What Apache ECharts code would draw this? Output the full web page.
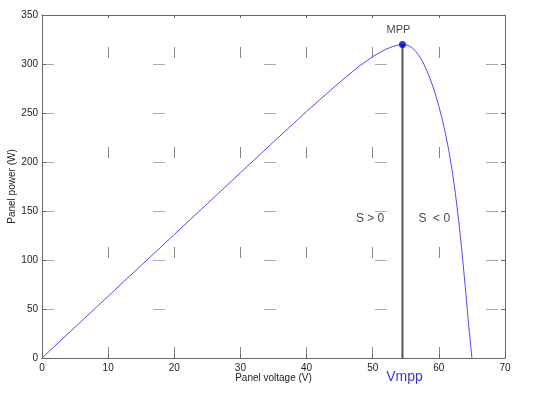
<!DOCTYPE html>
<html>
<head>
<meta charset="utf-8">
<script src="https://cdn.jsdelivr.net/npm/echarts@6/dist/echarts.min.js"></script>
<style>
html,body{margin:0;padding:0;background:#fff;}
#chart{width:550px;height:399px;}
</style>
</head>
<body>
<div id="chart"></div>
<script>
// Panel voltage (V) and panel power (W)
const voltage = [0, 5, 10, 15, 20, 25, 30, 35, 40, 42, 44, 46, 48, 50, 51, 52, 53, 54, 54.5, 55, 55.5, 56, 56.5, 57, 57.5, 58, 58.5, 59, 59.5, 60, 60.5, 61, 61.5, 62, 62.5, 63, 63.5, 64.0, 64.5, 65.0];
const power   = [0, 31.5, 63, 94.5, 126, 157.5, 189, 220.5, 251.5, 263.5, 275.5, 287, 298, 307.5, 311.5, 315, 317.8, 319.5, 320, 319.6, 318.4, 316.2, 313, 308.5, 303, 296, 288, 279, 268.5, 257, 244, 229, 212, 192, 168, 140, 108, 72, 34, 0];
const mppVoltage = 54.5;
const mppPower = 320;
const xTicks = [0, 10, 20, 30, 40, 50, 60, 70];
const yTicks = [0, 50, 100, 150, 200, 250, 300, 350];
const annotationTexts = ['S > 0', 'S  < 0', 'Vmpp'];

const FONT = 'Liberation Sans, Arial, sans-serif';
const chart = echarts.init(document.getElementById('chart'), null, {renderer: 'canvas'});

const curve = voltage.map((v, i) => [v, power[i]]);

const option = {
  animation: false,
  backgroundColor: '#fff',
  grid: {left: 42, right: 45, top: 15, bottom: 41, containLabel: false, outerBoundsMode: 'none'},
  xAxis: [
    {
      type: 'value', min: xTicks[0], max: xTicks[xTicks.length - 1], interval: 10,
      position: 'bottom',
      axisLine: {show: true, onZero: false, lineStyle: {color: '#666', width: 1}},
      axisTick: {show: true, inside: true, length: 4, lineStyle: {color: '#666'}},
      axisLabel: {color: '#222', fontSize: 10, fontFamily: FONT, margin: 5},
      splitLine: {show: true, lineStyle: {color: '#888', width: 1, type: [11, 89], dashOffset: 68}},
      name: 'Panel voltage (V)', nameLocation: 'middle', nameGap: 15.5, nameMoveOverlap: false,
      nameTextStyle: {color: '#222', fontSize: 10, fontFamily: FONT, verticalAlign: 'top'}
    },
    {
      type: 'value', min: xTicks[0], max: xTicks[xTicks.length - 1], interval: 10,
      position: 'top',
      axisLine: {show: true, onZero: false, lineStyle: {color: '#666', width: 1}},
      axisTick: {show: true, inside: true, length: 3, lineStyle: {color: '#666'}},
      axisLabel: {show: false},
      splitLine: {show: false}
    }
  ],
  yAxis: [
    {
      type: 'value', min: yTicks[0], max: yTicks[yTicks.length - 1], interval: 50,
      position: 'left',
      axisLine: {show: true, onZero: false, lineStyle: {color: '#666', width: 1}},
      axisTick: {show: true, inside: true, length: 4, lineStyle: {color: '#666'}},
      axisLabel: {color: '#222', fontSize: 10, fontFamily: FONT, margin: 4},
      splitLine: {show: true, lineStyle: {color: '#aaa', width: 1, type: [12, 99], dashOffset: 0}},
      name: 'Panel power (W)', nameLocation: 'middle', nameGap: 25, nameRotate: 90, nameMoveOverlap: false,
      nameTextStyle: {color: '#222', fontSize: 10, fontFamily: FONT}
    },
    {
      type: 'value', min: yTicks[0], max: yTicks[yTicks.length - 1], interval: 50,
      position: 'right',
      axisLine: {show: true, onZero: false, lineStyle: {color: '#666', width: 1}},
      axisTick: {show: true, inside: true, length: 4, lineStyle: {color: '#666'}},
      axisLabel: {show: false},
      splitLine: {show: false}
    }
  ],
  series: [
    {
      name: 'P-V', type: 'line', xAxisIndex: 0, yAxisIndex: 0,
      data: curve, showSymbol: false, smooth: false,
      lineStyle: {color: '#4d4dff', width: 1}, z: 3
    },
    {
      name: 'Vmpp line', type: 'line', xAxisIndex: 0, yAxisIndex: 0,
      data: [[mppVoltage, 0], [mppVoltage, mppPower]], showSymbol: false,
      lineStyle: {color: '#555', width: 2}, z: 2
    },
    {
      name: 'MPP', type: 'scatter', xAxisIndex: 0, yAxisIndex: 0,
      data: [[mppVoltage, mppPower]], symbolSize: 7,
      itemStyle: {color: '#0000cc'}, z: 5,
      label: {show: true, position: 'top', distance: 5, offset: [-4, 0], formatter: 'MPP',
        color: '#111', fontSize: 11, fontFamily: FONT}
    },
    {
      name: 'annotations', type: 'scatter', xAxisIndex: 0, yAxisIndex: 0,
      clip: false, symbolSize: 0, silent: true,
      data: [
        {name: annotationTexts[0], value: [49.6, 142], label: {color: '#111', fontSize: 12}},
        {name: annotationTexts[1], value: [59.3, 142], label: {color: '#111', fontSize: 12}},
        {name: annotationTexts[2], value: [54.8, -19.5], label: {color: '#0000ee', fontSize: 14}}
      ],
      label: {show: true, position: 'inside', formatter: '{b}', fontFamily: FONT}
    }
  ]
};
chart.setOption(option);
</script>
</body>
</html>
